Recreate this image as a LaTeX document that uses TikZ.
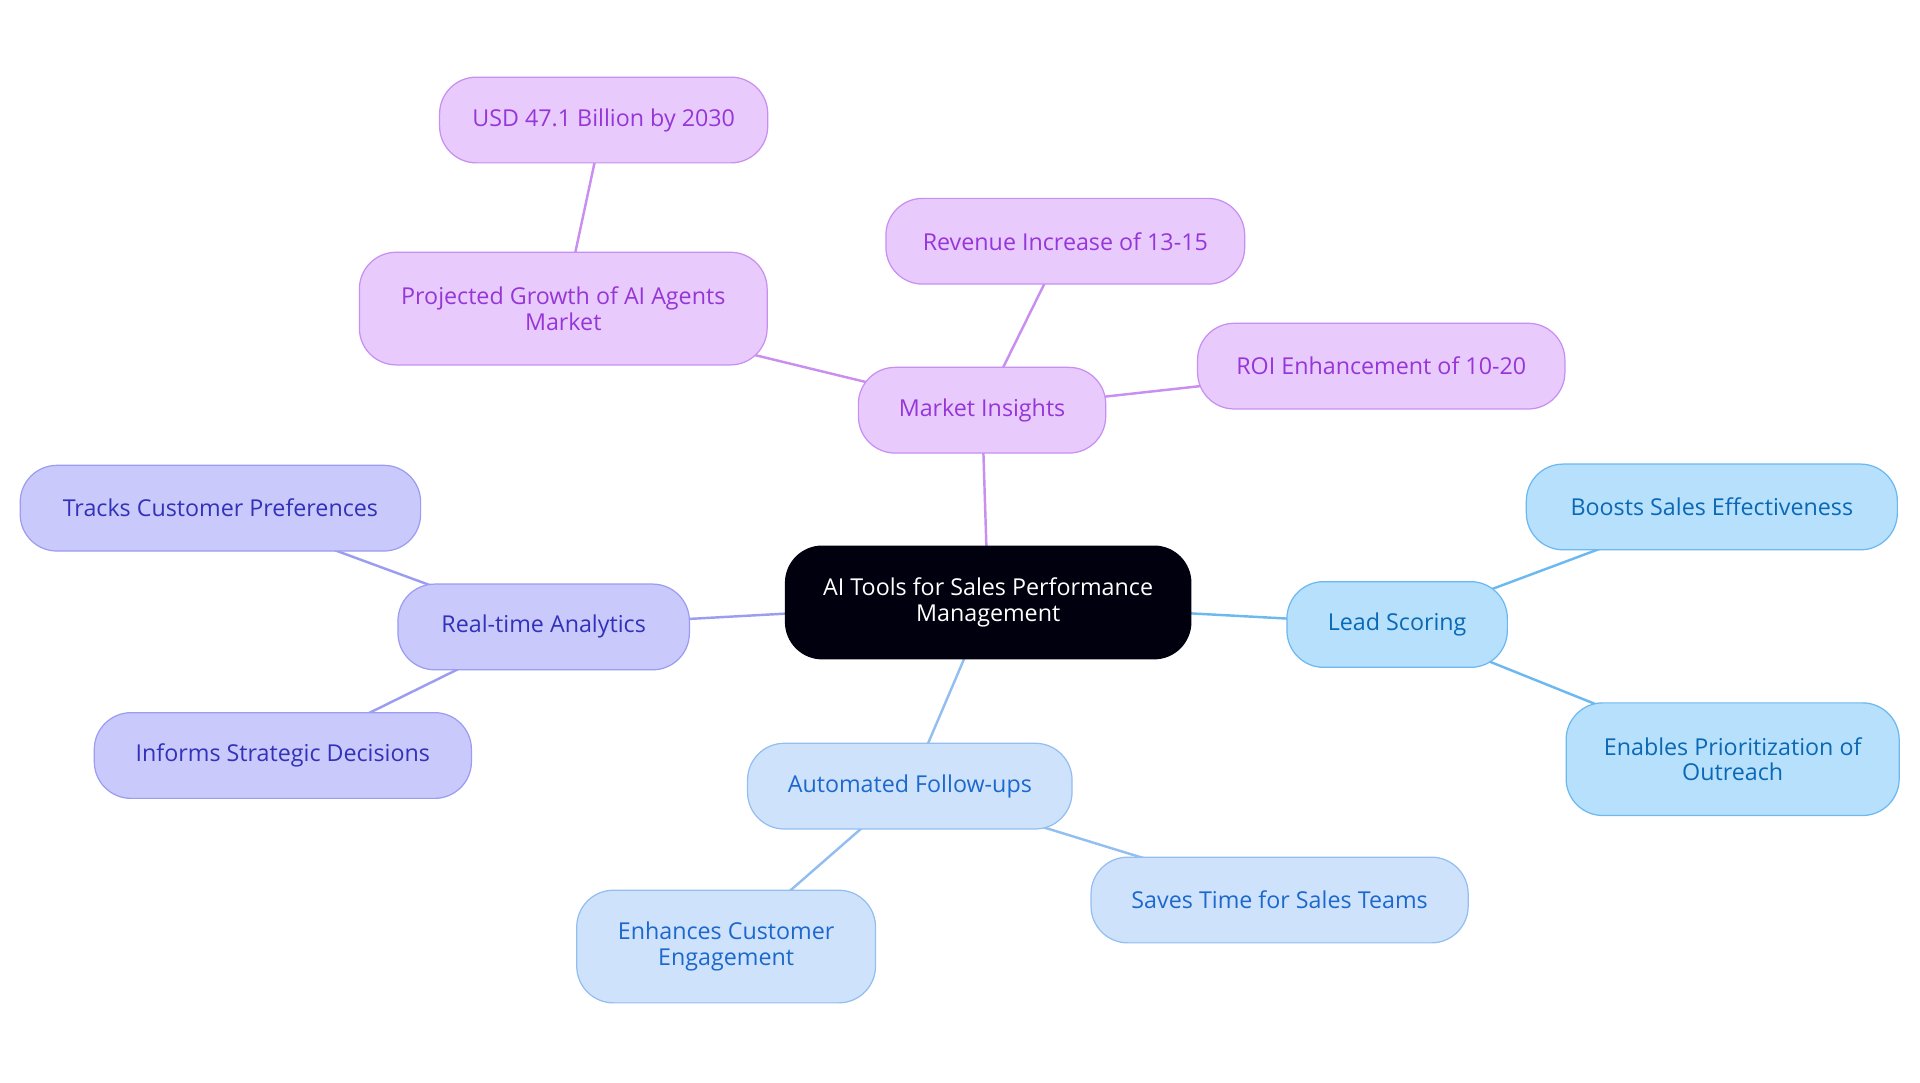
\documentclass[tikz,border=0pt]{standalone}
\usepackage{fontspec}
\setmainfont{Open Sans}
\usetikzlibrary{backgrounds}
\definecolor{pf}{HTML}{E8CBFC}\definecolor{ps}{HTML}{C88EF0}\definecolor{pt}{HTML}{9636D8}
\definecolor{if}{HTML}{C9C9FC}\definecolor{is}{HTML}{9C9CF0}\definecolor{it}{HTML}{3232B8}
\definecolor{lf}{HTML}{B6E0FC}\definecolor{ls}{HTML}{6CB8F0}\definecolor{lt}{HTML}{0B68B4}
\definecolor{af}{HTML}{CEE3FB}\definecolor{as}{HTML}{92BEF0}\definecolor{at}{HTML}{1C68CC}
\begin{document}
\begin{tikzpicture}[x=1pt,y=-1pt,
 box/.style={rounded corners=30pt,draw,line width=1pt,align=center,inner sep=0pt,font=\fontsize{19}{21}\selectfont},
 bx/.style n args={2}{box,minimum width=#1pt,minimum height=#2pt},
 P/.style={fill=pf,draw=ps,text=pt},I/.style={fill=if,draw=is,text=it},
 L/.style={fill=lf,draw=ls,text=lt},A/.style={fill=af,draw=as,text=at},
 e/.style={line width=2pt}]
\useasboundingbox (0,0) rectangle (1568,884);
\node[bx={331}{92},fill=black!90!blue!60!black,draw=black!90!blue!60!black,text=white] (c) at (807,492) {AI Tools for Sales Performance\\Management};
\node[bx={202}{70},P] (mi) at (802,335) {Market Insights};
\node[bx={333}{92},P] (pg) at (460,252) {Projected Growth of AI Agents\\Market};
\node[bx={268}{70},P] (usd) at (493,98) {USD 47.1 Billion by 2030};
\node[bx={293}{70},P] (rev) at (870,197) {Revenue Increase of 13-15};
\node[bx={300}{70},P] (roi) at (1128,299) {ROI Enhancement of 10-20};
\node[bx={238}{70},I] (rt) at (444,512) {Real-time Analytics};
\node[bx={327}{70},I] (tr) at (180,415) {Tracks Customer Preferences};
\node[bx={308}{70},I] (inf) at (231,617) {Informs Strategic Decisions};
\node[bx={180}{70},L] (ls) at (1141,510) {Lead Scoring};
\node[bx={303}{70},L] (bo) at (1398,414) {Boosts Sales Effectiveness};
\node[bx={272}{92},L] (en) at (1415,620) {Enables Prioritization of\\Outreach};
\node[bx={265}{70},A] (au) at (743,642) {Automated Follow-ups};
\node[bx={308}{70},A] (sa) at (1045,735) {Saves Time for Sales Teams};
\node[bx={244}{92},A] (eh) at (593,773) {Enhances Customer\\Engagement};
\begin{scope}[on background layer]
\draw[e,ps] (c.center)--(mi.center) (mi.center)--(pg.center) (pg.center)--(usd.center) (mi.center)--(rev.center) (mi.center)--(roi.center);
\draw[e,is] (c.center)--(rt.center) (rt.center)--(tr.center) (rt.center)--(inf.center);
\draw[e,ls] (c.center)--(ls.center) (ls.center)--(bo.center) (ls.center)--(en.center);
\draw[e,as] (c.center)--(au.center) (au.center)--(sa.center) (au.center)--(eh.center);
\end{scope}
\end{tikzpicture}
\end{document}
